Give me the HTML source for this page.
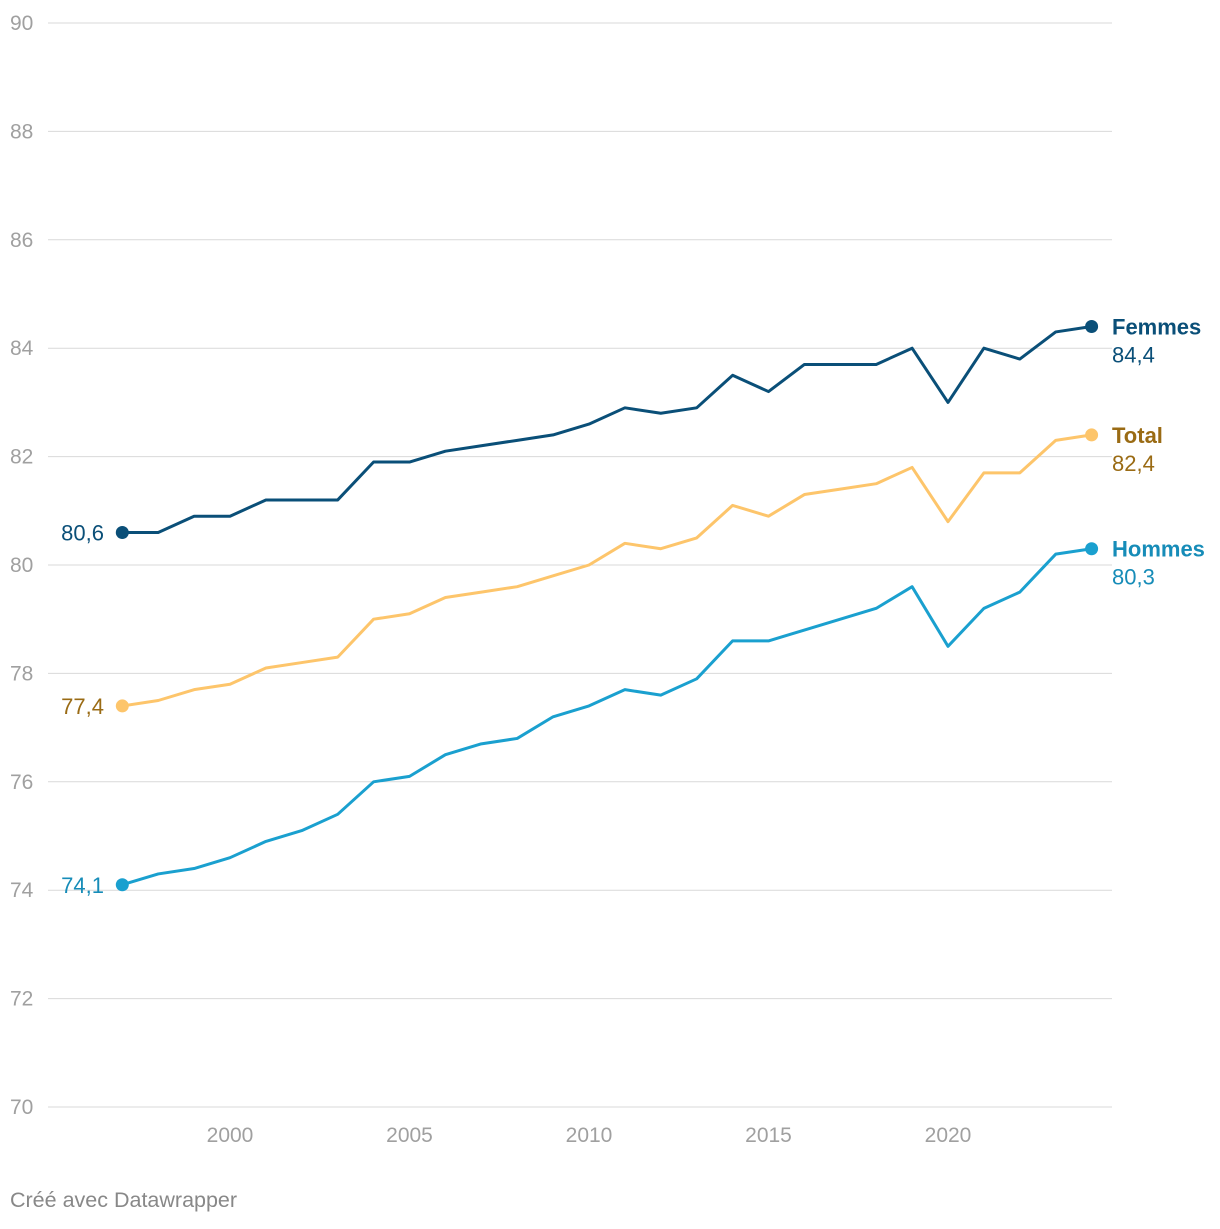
<!DOCTYPE html>
<html><head><meta charset="utf-8">
<style>
html,body{margin:0;padding:0;background:#fff;}
body{width:1220px;height:1224px;overflow:hidden;font-family:"Liberation Sans",sans-serif;}
svg text{font-family:"Liberation Sans",sans-serif;}
</style></head>
<body>
<svg id="chart" width="1220" height="1224" xmlns="http://www.w3.org/2000/svg"></svg>
<script>
const years = [1997,1998,1999,2000,2001,2002,2003,2004,2005,2006,2007,2008,2009,2010,2011,2012,2013,2014,2015,2016,2017,2018,2019,2020,2021,2022,2023,2024];
const femmes = [80.6,80.6,80.9,80.9,81.2,81.2,81.2,81.9,81.9,82.1,82.2,82.3,82.4,82.6,82.9,82.8,82.9,83.5,83.2,83.7,83.7,83.7,84.0,83.0,84.0,83.8,84.3,84.4];
const total = [77.4,77.5,77.7,77.8,78.1,78.2,78.3,79.0,79.1,79.4,79.5,79.6,79.8,80.0,80.4,80.3,80.5,81.1,80.9,81.3,81.4,81.5,81.8,80.8,81.7,81.7,82.3,82.4];
const hommes = [74.1,74.3,74.4,74.6,74.9,75.1,75.4,76.0,76.1,76.5,76.7,76.8,77.2,77.4,77.7,77.6,77.9,78.6,78.6,78.8,79.0,79.2,79.6,78.5,79.2,79.5,80.2,80.3];
const yTicks = [70,72,74,76,78,80,82,84,86,88,90];
const xTicks = [2000,2005,2010,2015,2020];

const NS="http://www.w3.org/2000/svg";
const svg=document.getElementById('chart');
const x=v=>230+(v-2000)*(948-230)/20;
const y=v=>1107-(v-70)*(1107-23)/20;
function el(t,a,p){const e=document.createElementNS(NS,t);for(const k in a)e.setAttribute(k,a[k]);(p||svg).appendChild(e);return e;}
function fmt(v){return v.toFixed(1).replace('.',',');}

yTicks.forEach(t=>{
  const l=el('line',{x1:48,x2:1112,y1:y(t),y2:y(t),stroke:'#d9d9d9','stroke-width':1});
  
  
  const tx=el('text',{x:10,y:y(t)+7,fill:'#a0a0a0','font-size':21});
  tx.textContent=t;
  
  
});
xTicks.forEach(t=>{
  const tx=el('text',{x:x(t),y:1142,fill:'#a0a0a0','font-size':21,'text-anchor':'middle'});
  tx.textContent=t;
  
  
});

const series=[
  {name:'Femmes',vals:femmes,color:'#0a4f78',text:'#0a4f78'},
  {name:'Total',vals:total,color:'#fdc56b',text:'#9a6b14'},
  {name:'Hommes',vals:hommes,color:'#1aa0cf',text:'#168cb8'}
];
series.forEach(s=>{
  const d=s.vals.map((v,i)=>(i?'L':'M')+x(years[i])+','+y(v)).join(' ');
  const p=el('path',{d:d,fill:'none',stroke:s.color,'stroke-width':3,'stroke-linejoin':'round'});
  
  
  const n=s.vals.length-1;
  [0,n].forEach(i=>{
    const c=el('circle',{cx:x(years[i]),cy:y(s.vals[i]),r:6.5,fill:s.color});
    
    
  });
  const sl=el('text',{x:104,y:y(s.vals[0])+8,fill:s.text,'font-size':22,'text-anchor':'end'});
  sl.textContent=fmt(s.vals[0]);
  
  
  const nl=el('text',{x:1112,y:y(s.vals[n])+8,fill:s.text,'font-size':22,'font-weight':'bold'});
  nl.textContent=s.name;
  
  
  const vl=el('text',{x:1112,y:y(s.vals[n])+36,fill:s.text,'font-size':22});
  vl.textContent=fmt(s.vals[n]);
  
  
});
const cr=el('text',{x:10,y:1207,fill:'#888','font-size':21.5});
cr.textContent='Créé avec Datawrapper';


</script>
</body></html>
